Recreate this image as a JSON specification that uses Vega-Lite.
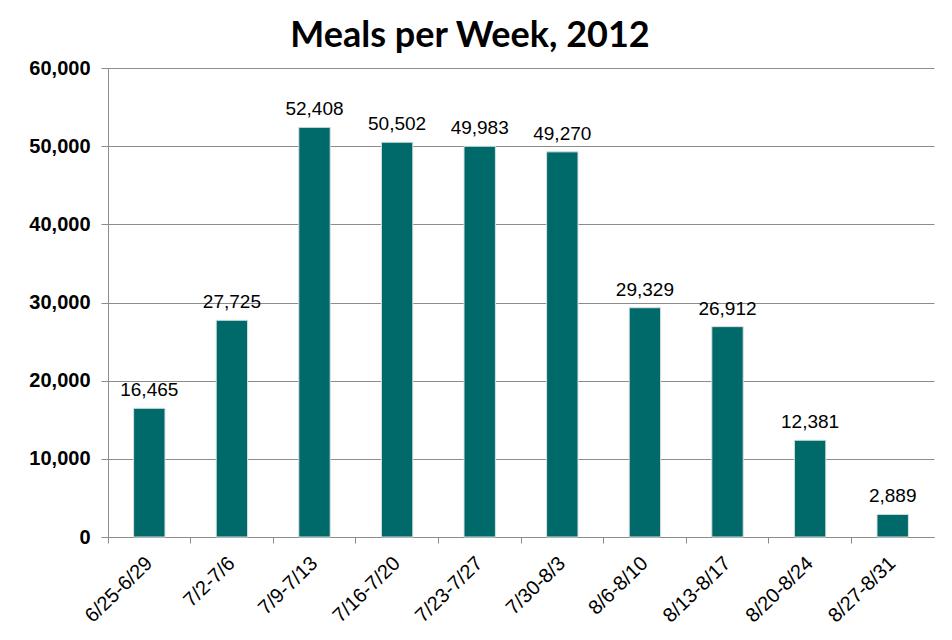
{
  "$schema": "https://vega.github.io/schema/vega-lite/v6.json",
  "autosize": "none",
  "width": 826,
  "height": 469,
  "padding": {"left": 108, "top": 68, "right": 18, "bottom": 103},
  "background": "white",
  "title": {
    "text": "Meals per Week, 2012",
    "font": "Lato",
    "fontSize": 36,
    "fontWeight": "bold",
    "color": "black",
    "anchor": "middle",
    "dx": -51,
    "offset": 3
  },
  "data": {
    "values": [
      {"week": "6/25-6/29", "meals": 16465},
      {"week": "7/2-7/6", "meals": 27725},
      {"week": "7/9-7/13", "meals": 52408},
      {"week": "7/16-7/20", "meals": 50502},
      {"week": "7/23-7/27", "meals": 49983},
      {"week": "7/30-8/3", "meals": 49270},
      {"week": "8/6-8/10", "meals": 29329},
      {"week": "8/13-8/17", "meals": 26912},
      {"week": "8/20-8/24", "meals": 12381},
      {"week": "8/27-8/31", "meals": 2889}
    ]
  },
  "encoding": {
    "x": {
      "field": "week",
      "type": "nominal",
      "sort": null,
      "scale": {"paddingInner": 0, "paddingOuter": 0},
      "axis": {
        "title": null,
        "labelAngle": -44,
        "labelAlign": "right",
        "labelBaseline": "middle",
        "labelFont": "Liberation Sans",
        "labelFontSize": 20,
        "labelColor": "black",
        "labelPadding": 17,
        "bandPosition": 0,
        "tickSize": 6,
        "tickColor": "#8c8c8c",
        "domainColor": "#8c8c8c",
        "grid": false
      }
    },
    "y": {
      "field": "meals",
      "type": "quantitative",
      "scale": {"domain": [0, 60000], "nice": false},
      "axis": {
        "title": null,
        "values": [0, 10000, 20000, 30000, 40000, 50000, 60000],
        "format": ",.0f",
        "labelFont": "Liberation Sans",
        "labelFontSize": 20,
        "labelFontWeight": "bold",
        "labelColor": "black",
        "labelPadding": 11,
        "tickSize": 7,
        "tickColor": "#8c8c8c",
        "domainColor": "#8c8c8c",
        "gridColor": "#8c8c8c",
        "gridWidth": 1
      }
    }
  },
  "layer": [
    {
      "mark": {"type": "bar", "color": "#006A6A", "width": {"band": 0.38}, "stroke": "#d8e0e0", "strokeWidth": 1}
    },
    {
      "mark": {"type": "text", "baseline": "bottom", "dy": -8, "font": "Liberation Sans", "fontSize": 19, "color": "black"},
      "encoding": {"text": {"field": "meals", "type": "quantitative", "format": ",.0f"}}
    }
  ],
  "config": {"view": {"stroke": null}}
}
